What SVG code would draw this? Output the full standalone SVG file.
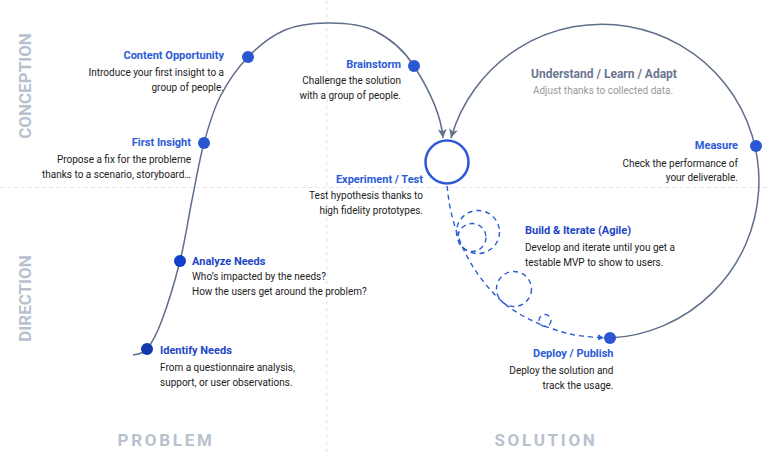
<svg xmlns="http://www.w3.org/2000/svg" width="769" height="456" viewBox="0 0 769 456">
<style>
text{font-family:Roboto,"Liberation Sans",sans-serif}
.t{font-weight:700;font-size:11px;fill:#2b5bd6}
.td{font-weight:700;font-size:11px;fill:#1d45c6}
.b{font-size:10px;fill:#222}
.ax{font-weight:700;font-size:17px;fill:#b9c1cf}
.grid{stroke:#e2e5f0;stroke-width:1;stroke-dasharray:4 3;fill:none}
.flow{stroke:#5f6e8a;stroke-width:1.5;fill:none}
.dash{stroke:#2f5bd3;stroke-width:1.4;fill:none;stroke-dasharray:5 4}
.dot{fill:#2a56d2}
.r{text-anchor:end}
</style>
<defs>
<marker id="ah" viewBox="0 0 10 10" refX="10" refY="5" markerWidth="9" markerHeight="9" markerUnits="userSpaceOnUse" orient="auto"><path d="M0,0 L10,5 L0,10 L2.5,5 z" fill="#66758f"/></marker>
<marker id="bh" viewBox="0 0 10 10" refX="10" refY="5" markerWidth="6" markerHeight="6" markerUnits="userSpaceOnUse" orient="auto"><path d="M0,0 L10,5 L0,10 z" fill="#2f5bd3"/></marker>
</defs>
<rect width="769" height="456" fill="#fff"/>
<g id="grid">
<line class="grid" x1="327" y1="0" x2="327" y2="456"/>
<line class="grid" x1="0" y1="187.5" x2="769" y2="187.5"/>
</g>
<g id="axes">
<text class="ax" text-anchor="middle" transform="translate(31,86) rotate(-90)">CONCEPTION</text>
<text class="ax" text-anchor="middle" transform="translate(31,298.5) rotate(-90)">DIRECTION</text>
<text class="ax" text-anchor="middle" x="166" y="446" letter-spacing="2.7">PROBLEM</text>
<text class="ax" text-anchor="middle" x="546" y="446" letter-spacing="2.7">SOLUTION</text>
</g>
<g id="connectors">
<path class="flow" marker-end="url(#ah)" d="M133,355 C135.3,354 142.2,354.8 147,349 C151.8,343.2 156.5,334.7 162,320 C167.5,305.3 175,281 180,261 C185,241 188,219.7 192,200 C196,180.3 199.3,160.2 204,143 C208.7,125.8 212.7,111.3 220,97 C227.3,82.7 237.2,68.2 248,57 C258.8,45.8 271.8,35.7 285,30 C298.2,24.3 312,23.2 327,23 C342,22.8 360.5,23.8 375,31 C389.5,38.2 402.7,48.3 414,66 C425.3,83.7 441,112 443,138"/>
<path class="flow" marker-end="url(#ah)" d="M610,338 A157,157 0 1 0 451,138"/>
<path class="dash" marker-end="url(#bh)" d="M447,186 C447.7,190 448.5,201.7 451,212 C453.5,222.3 457.2,235.2 462,246 C466.8,256.8 472.8,267.3 480,277 C487.2,286.7 495.8,296.5 505,304 C514.2,311.5 524.2,317 535,322 C545.8,327 558.7,331.3 570,334 C581.3,336.7 597.5,337.3 604,338"/>
<circle class="dash" cx="478" cy="232" r="21.5"/>
<circle class="dash" cx="472" cy="237.5" r="14"/>
<circle class="dash" cx="514" cy="289" r="17.5"/>
<circle class="dash" cx="545" cy="320.5" r="6" stroke-dasharray="4 3"/>
</g>
<g id="experiment">
<circle cx="447" cy="162" r="21.5" fill="#fff" stroke="#2d59d4" stroke-width="2.5"/>
<text class="t r" x="423" y="183.3">Experiment / Test</text>
<text class="b r" x="423" y="199.3">Test hypothesis thanks to</text>
<text class="b r" x="423" y="214.3">high fidelity prototypes.</text>
</g>
<g id="identify">
<circle class="dot" cx="147" cy="349" r="6" fill="#1238b0" style="fill:#1238b0"/>
<text class="td" x="160" y="354">Identify Needs</text>
<text class="b" x="160" y="370.5">From a questionnaire analysis,</text>
<text class="b" x="160" y="385.5">support, or user observations.</text>
</g>
<g id="analyze">
<circle class="dot" cx="180" cy="261" r="6" style="fill:#1141cc"/>
<text class="td" x="192" y="265">Analyze Needs</text>
<text class="b" x="192" y="280">Who’s impacted by the needs?</text>
<text class="b" x="192" y="294.5">How the users get around the problem?</text>
</g>
<g id="first-insight">
<circle class="dot" cx="204" cy="143" r="6"/>
<text class="t r" x="191" y="146">First Insight</text>
<text class="b r" x="191" y="163.3">Propose a fix for the probleme</text>
<text class="b r" x="191" y="178.3">thanks to a scenario, storyboard…</text>
</g>
<g id="content-opportunity">
<circle class="dot" cx="248" cy="57" r="6"/>
<text class="t r" x="224" y="58.5">Content Opportunity</text>
<text class="b r" x="224" y="75.5">Introduce your first insight to a</text>
<text class="b r" x="224" y="90.5">group of people.</text>
</g>
<g id="brainstorm">
<circle class="dot" cx="414" cy="66" r="6"/>
<text class="t r" x="401" y="68.3">Brainstorm</text>
<text class="b r" x="401" y="84">Challenge the solution</text>
<text class="b r" x="401" y="99">with a group of people.</text>
</g>
<g id="understand">
<text x="604" y="78" text-anchor="middle" font-size="12" font-weight="700" fill="#6b7691">Understand / Learn / Adapt</text>
<text x="603" y="94" text-anchor="middle" font-size="10" fill="#9a9a9a">Adjust thanks to collected data.</text>
</g>
<g id="measure">
<circle class="dot" cx="756" cy="146" r="6"/>
<text class="t r" x="738" y="149.3">Measure</text>
<text class="b r" x="738" y="166.5">Check the performance of</text>
<text class="b r" x="738" y="181">your deliverable.</text>
</g>
<g id="build">
<text class="td" x="525" y="234">Build &amp; Iterate (Agile)</text>
<text class="b" x="525" y="250.5">Develop and iterate until you get a</text>
<text class="b" x="525" y="265.5">testable MVP to show to users.</text>
</g>
<g id="deploy">
<circle class="dot" cx="610" cy="338" r="6"/>
<text class="t r" x="613.5" y="356.7">Deploy / Publish</text>
<text class="b r" x="613.5" y="373.5">Deploy the solution and</text>
<text class="b r" x="613.5" y="388.5">track the usage.</text>
</g>
</svg>
